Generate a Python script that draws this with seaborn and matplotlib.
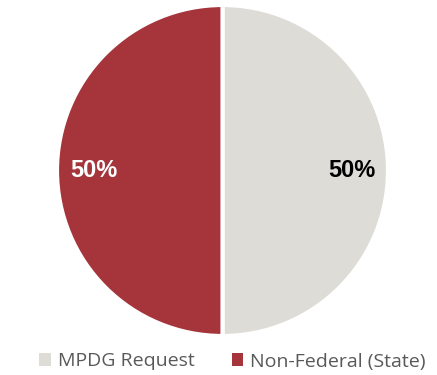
import matplotlib
matplotlib.use("Agg")
import matplotlib.pyplot as plt
import seaborn as sns
from matplotlib.patches import Patch

categories = ["MPDG Request", "Non-Federal (State)"]
values = [50, 50]
colors = ["#DDDCD7", "#A5353B"]
label_colors = ["#000000", "#FFFFFF"]

sns.set_theme(style="white")
plt.rcParams['font.family'] = ['Open Sans', 'DejaVu Sans']

fig = plt.figure(figsize=(4.37, 3.75), dpi=100)
ax = fig.add_axes([57 / 437, (375 - 336) / 375, 331 / 437, 331 / 375])
wedges, texts, autotexts = ax.pie(
    values, colors=colors, startangle=90, counterclock=False,
    autopct=lambda p: f"{p:.0f}%", pctdistance=0.78,
    wedgeprops=dict(edgecolor="white", linewidth=3),
    textprops=dict(fontsize=17, fontweight="bold",
                   family=["Liberation Sans", "DejaVu Sans"]),
)
for t, c in zip(autotexts, label_colors):
    t.set_color(c)
ax.set_xlim(-1.0, 1.0)
ax.set_ylim(-1.0, 1.0)
ax.set_aspect("equal")
ax.axis("off")

handles = [Patch(facecolor=c, edgecolor="none") for c in colors]
fig.legend(handles, categories, loc="center", bbox_to_anchor=(0.532, 0.036),
           ncol=2, frameon=False, fontsize=14, handlelength=0.6, handleheight=0.6,
           handletextpad=0.35, columnspacing=1.9, labelcolor="#595959")

fig.savefig("out.png", dpi=100, facecolor="white")
